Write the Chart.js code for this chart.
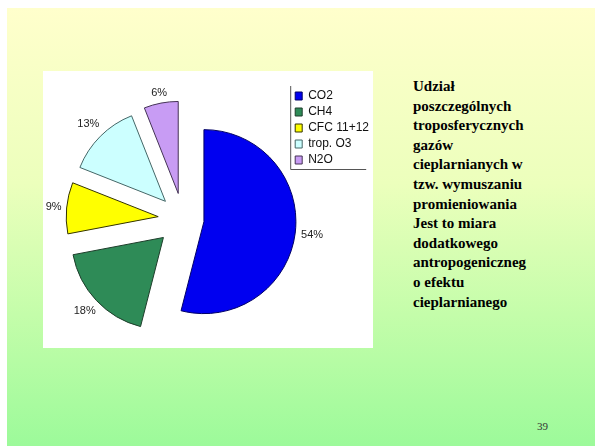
<!DOCTYPE html>
<html>
<head>
<meta charset="utf-8">
<script src="https://cdn.jsdelivr.net/npm/chart.js@4.4.1/dist/chart.umd.min.js"></script>
<style>
    html, body { margin: 0; padding: 0; background: #fff; }
    body { width: 595px; height: 446px; position: relative; overflow: hidden; }
    #slide {
        position: absolute; left: 7px; top: 8px; right: 0; bottom: 0;
        background: linear-gradient(to bottom, #ffffcc 0%, #ecffbc 40%, #c4fdaa 70%, #9cfa9a 100%);
    }
    #box { position: absolute; left: 43px; top: 71px; width: 330px; height: 277px; background: #fff; overflow: hidden; }
    #box canvas { position: absolute; left: 0; top: 4px; }
    #caption {
        position: absolute; left: 413px; top: 77px;
        font: bold 15px/19.6px "Liberation Serif", "Times New Roman", serif; color: #000;
    }
    #pagenum { position: absolute; left: 537px; top: 420px; font: 11px "Liberation Serif", serif; color: #333; }
</style>
</head>
<body>
<div id="slide"></div>
<div id="box"><canvas id="gasChart" width="330" height="277"></canvas></div>
<div id="caption">Udział<br>poszczególnych<br>troposferycznych<br>gazów<br>cieplarnianych w<br>tzw. wymuszaniu<br>promieniowania<br>Jest to miara<br>dodatkowego<br>antropogeniczneg<br>o efektu<br>cieplarnianego</div>
<div id="pagenum">39</div>
<script>
// gases and their share (%) in radiative forcing
const gasLabels = ['CO2', 'CH4', 'CFC 11+12', 'trop. O3', 'N2O'];
const gasShares = [54, 18, 9, 13, 6];
const shareLabels = ['54%', '18%', '9%', '13%', '6%'];

const sliceColors = ['#0000f0', '#2e8b57', '#ffff00', '#ccffff', '#c89cf4'];
const sliceBorders = ['#000066', '#1d3d2a', '#333300', '#446666', '#443355'];
// how far each slice is pulled out of the pie (px) and gap to its label
const explodeBy = [21, 27, 25, 25, 26];
const labelGap = [17, 16, 13, 17, 10];

const explodePlugin = {
    id: 'explode',
    afterDatasetUpdate(chart, args) {
        args.meta.data.forEach((arc, i) => {
            const mid = (arc.startAngle + arc.endAngle) / 2;
            arc.x += Math.cos(mid) * explodeBy[i];
            arc.y += Math.sin(mid) * explodeBy[i];
        });
    },
    afterDatasetsDraw(chart) {
        const ctx = chart.ctx;
        const arcs = chart.getDatasetMeta(0).data;
        ctx.save();
        ctx.font = '11px "Liberation Sans", Arial, sans-serif';
        ctx.fillStyle = '#222';
        ctx.textAlign = 'center';
        ctx.textBaseline = 'middle';
        arcs.forEach((arc, i) => {
            const mid = (arc.startAngle + arc.endAngle) / 2;
            const r = arc.outerRadius + labelGap[i];
            ctx.fillText(shareLabels[i], arc.x + Math.cos(mid) * r, arc.y + Math.sin(mid) * r);
        });
        ctx.restore();
    }
};

// left + bottom frame around the legend entries
const legendFramePlugin = {
    id: 'legendFrame',
    afterDraw(chart) {
        const boxes = chart.legend && chart.legend.legendHitBoxes;
        if (!boxes || !boxes.length) return;
        const left = Math.min(...boxes.map(b => b.left)) - 5;
        const bottom = Math.max(...boxes.map(b => b.top + b.height)) + 3;
        const top = Math.min(...boxes.map(b => b.top)) - 4;
        const ctx = chart.ctx;
        ctx.save();
        ctx.strokeStyle = '#555';
        ctx.lineWidth = 1;
        ctx.beginPath();
        ctx.moveTo(left + 0.5, top);
        ctx.lineTo(left + 0.5, bottom + 0.5);
        ctx.lineTo(left + 76, bottom + 0.5);
        ctx.stroke();
        ctx.restore();
    }
};

new Chart(document.getElementById('gasChart'), {
    type: 'pie',
    data: {
        labels: gasLabels,
        datasets: [{
            data: gasShares,
            backgroundColor: sliceColors,
            borderColor: sliceBorders,
            borderWidth: 1
        }]
    },
    options: {
        responsive: false,
        animation: false,
        radius: 92,
        layout: { padding: { top: 11, bottom: 0, left: 32, right: -6 } },
        plugins: {
            legend: {
                position: 'right',
                align: 'start',
                labels: {
                    boxWidth: 7,
                    boxHeight: 8,
                    padding: 4,
                    color: '#111',
                    font: { family: '"Liberation Sans", Arial, sans-serif', size: 12 }
                }
            },
            tooltip: { enabled: false }
        }
    },
    plugins: [explodePlugin, legendFramePlugin]
});
</script>
</body>
</html>
